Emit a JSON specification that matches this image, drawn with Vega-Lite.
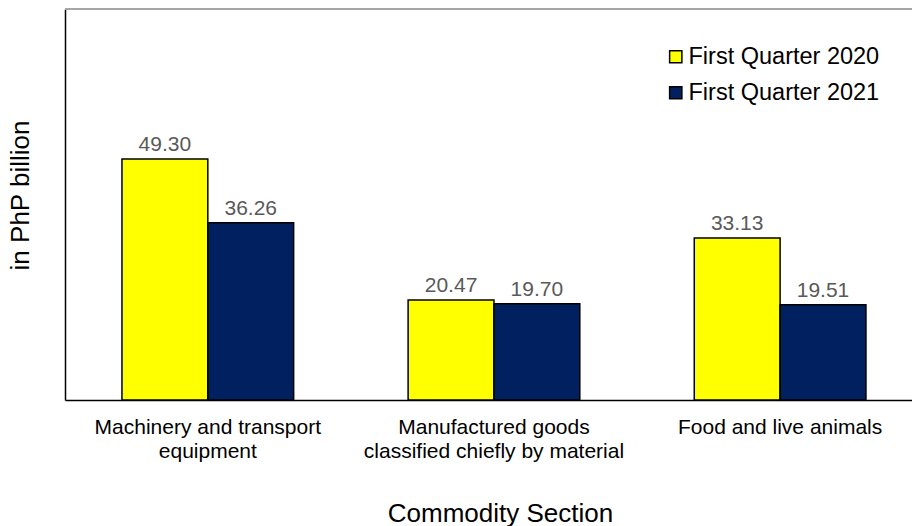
{
  "$schema": "https://vega.github.io/schema/vega-lite/v6.json",
  "width": 847,
  "height": 391,
  "autosize": {"type": "none"},
  "padding": {"left": 65, "top": 9, "right": 0, "bottom": 126},
  "background": "white",
  "config": {
    "view": {"stroke": null},
    "font": "Liberation Sans"
  },
  "data": {
    "values": [
      {"section": "Machinery and transport equipment", "period": "First Quarter 2020", "value": 49.30},
      {"section": "Machinery and transport equipment", "period": "First Quarter 2021", "value": 36.26},
      {"section": "Manufactured goods classified chiefly by material", "period": "First Quarter 2020", "value": 20.47},
      {"section": "Manufactured goods classified chiefly by material", "period": "First Quarter 2021", "value": 19.70},
      {"section": "Food and live animals", "period": "First Quarter 2020", "value": 33.13},
      {"section": "Food and live animals", "period": "First Quarter 2021", "value": 19.51}
    ]
  },
  "encoding": {
    "x": {
      "field": "section",
      "type": "nominal",
      "sort": null,
      "scale": {"paddingInner": 0.4, "paddingOuter": 0.18, "align": 0.553},
      "axis": {
        "title": "Commodity Section",
        "titleFontSize": 26,
        "titleFontWeight": "normal",
        "titleColor": "black",
        "titlePadding": 39,
        "titleX": 435,
        "labelAngle": 0,
        "labelFontSize": 21,
        "labelColor": "black",
        "labelPadding": 16,
        "labelLineHeight": 24,
        "labelLimit": 400,
        "labelExpr": "datum.value == 'Machinery and transport equipment' ? ['Machinery and transport', 'equipment'] : datum.value == 'Manufactured goods classified chiefly by material' ? ['Manufactured goods', 'classified chiefly by material'] : datum.value",
        "ticks": false,
        "domainColor": "black",
        "domainWidth": 1.5
      }
    }
  },
  "layer": [
    {
      "mark": {"type": "bar", "stroke": "black", "strokeWidth": 1.5},
      "encoding": {
        "xOffset": {"field": "period", "type": "nominal", "scale": {"paddingInner": 0, "paddingOuter": 0}},
        "y": {
          "field": "value",
          "type": "quantitative",
          "scale": {"domain": [0, 80], "nice": false},
          "axis": {
            "title": "in PhP billion",
            "titleFontSize": 26,
            "titleFontWeight": "normal",
            "titleColor": "black",
            "titlePadding": 32,
            "titleY": 186,
            "labels": false,
            "ticks": false,
            "grid": false,
            "domainColor": "black",
            "domainWidth": 1.5
          }
        },
        "color": {
          "field": "period",
          "type": "nominal",
          "scale": {"range": ["#FFFF00", "#002060"]},
          "legend": {
            "title": null,
            "orient": "none",
            "legendX": 599,
            "legendY": 36,
            "symbolType": "square",
            "symbolSize": 150,
            "symbolStrokeColor": "black",
            "symbolStrokeWidth": 1.5,
            "labelFontSize": 23.5,
            "labelColor": "black",
            "labelOffset": 1,
            "rowPadding": 11,
            "labelLimit": 400
          }
        }
      }
    },
    {
      "mark": {"type": "text", "baseline": "bottom", "dy": -4, "fontSize": 21, "color": "#595959"},
      "encoding": {
        "xOffset": {"field": "period", "type": "nominal"},
        "y": {"field": "value", "type": "quantitative"},
        "text": {"field": "value", "type": "quantitative", "format": ".2f"}
      }
    },
    {
      "mark": {"type": "rule", "color": "#a6a6a6", "strokeWidth": 2},
      "encoding": {"y": {"datum": 80}, "x": {"value": 0}, "x2": {"value": 900}}
    }
  ]
}
